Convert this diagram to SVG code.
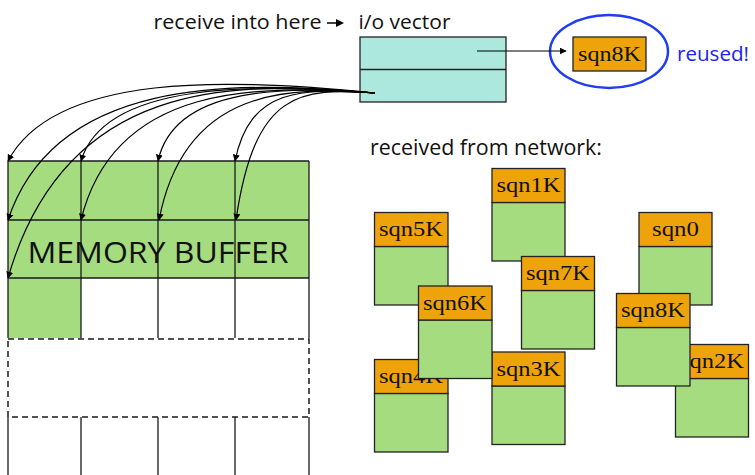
<svg xmlns="http://www.w3.org/2000/svg" width="755" height="475" viewBox="0 0 755 475">
  <style>
    .label { font-family: "Open Sans", Lato, "Liberation Sans", sans-serif; fill: #111; }
    .sqn { font-family: "Liberation Serif", "DejaVu Serif", serif; font-size: 22px; fill: #111; }
    .grid { stroke: #1a1a1a; stroke-width: 1.3; fill: none; }
    .dash { stroke: #1a1a1a; stroke-width: 1.5; fill: none; stroke-dasharray: 6 4; }
    .head { fill: #eea30a; stroke: #222; stroke-width: 1.3; }
    .body { fill: #a6dc80; stroke: #222; stroke-width: 1.3; }
    .wire { stroke: #000; stroke-width: 1.2; fill: none; marker-end: url(#tip); }
  </style>
  <defs>
    <marker id="tip" viewBox="0 0 10 10" refX="9" refY="5" markerWidth="7" markerHeight="7" markerUnits="userSpaceOnUse" orient="auto">
      <path d="M0,0 L10,5 L0,10 z" fill="#000"/>
    </marker>
  </defs>

  <rect width="755" height="475" fill="#fff"/>

  <!-- title line -->
  <g id="caption">
    <text class="label" x="153.5" y="29" font-size="20.5" textLength="168" lengthAdjust="spacingAndGlyphs">receive into here</text>
    <line x1="327" y1="23" x2="337" y2="23" stroke="#000" stroke-width="1.5"/>
    <path d="M336,19 L344,23 L336,27 z" fill="#000"/>
    <text class="label" x="358.5" y="29" font-size="20.5" textLength="92" lengthAdjust="spacingAndGlyphs">i/o vector</text>
  </g>

  <!-- i/o vector -->
  <g id="iovec">
    <rect x="360" y="37" width="146" height="65" fill="#ade8df" stroke="#222" stroke-width="1.3"/>
    <line x1="360" y1="69.5" x2="506" y2="69.5" stroke="#222" stroke-width="1.3"/>
  </g>

  <!-- reused packet -->
  <g id="reused">
    <ellipse cx="609" cy="51.5" rx="59" ry="36.5" fill="none" stroke="#1f3cf0" stroke-width="2.5"/>
    <rect class="head" x="573" y="37" width="73" height="34"/>
    <text class="sqn" x="609.5" y="61" text-anchor="middle" textLength="63" lengthAdjust="spacingAndGlyphs">sqn8K</text>
    <text x="677" y="61" font-family="'Open Sans', Lato, 'Liberation Sans', sans-serif" font-size="20" fill="#1a22f5" textLength="72" lengthAdjust="spacingAndGlyphs">reused!</text>
  </g>

  <!-- memory buffer -->
  <g id="buffer">
    <rect x="8" y="161" width="301" height="117" fill="#a6dc80"/>
    <rect x="8" y="278" width="73" height="60" fill="#a6dc80"/>
    <path class="grid" d="M8,161 H309 M8,220 H309 M8,278 H309 M8,161 V338 M81,161 V338 M158,161 V338 M235,161 V338 M309,161 V338"/>
    <rect class="dash" x="8" y="339" width="301" height="78"/>
    <path class="grid" d="M8,417 V475 M81,417 V475 M158,417 V475 M235,417 V475 M309,417 V475"/>
    <text class="label" x="158" y="263" font-size="30" text-anchor="middle" textLength="261" lengthAdjust="spacingAndGlyphs">MEMORY BUFFER</text>
  </g>

  <!-- scatter from the i/o vector slot into the buffer -->
  <g id="connectors">
    <line x1="477" y1="51" x2="566" y2="51" class="wire"/>
    <path class="wire" d="M375,93 C300,88 250,88 235,161"/>
    <path class="wire" d="M375,93 C300,88 255,90 236,220"/>
    <path class="wire" d="M375,93 C290,87 175,84 158,161"/>
    <path class="wire" d="M375,93 C290,87 185,86 159,220"/>
    <path class="wire" d="M375,93 C260,84 105,80 81,161"/>
    <path class="wire" d="M375,93 C260,85 115,82 81,220"/>
    <path class="wire" d="M375,93 C230,78 55,72 8,161"/>
    <path class="wire" d="M375,93 C230,80 55,78 8,220"/>
    <path class="wire" d="M375,93 C230,80 65,80 8,278"/>
  </g>

  <text class="label" x="370" y="155" font-size="21" textLength="232" lengthAdjust="spacingAndGlyphs">received from network:</text>

  <!-- packets arriving out of order -->
  <g id="p1k">
    <rect class="body" x="492" y="202.5" width="73" height="58.5"/>
    <rect class="head" x="492" y="168.5" width="73" height="34"/>
    <text class="sqn" x="528.5" y="192" text-anchor="middle" textLength="64" lengthAdjust="spacingAndGlyphs">sqn1K</text>
  </g>
  <g id="p5k">
    <rect class="body" x="374.5" y="246.5" width="73.5" height="58.5"/>
    <rect class="head" x="374.5" y="212.5" width="73.5" height="34"/>
    <text class="sqn" x="411" y="236" text-anchor="middle" textLength="64" lengthAdjust="spacingAndGlyphs">sqn5K</text>
  </g>
  <g id="p0">
    <rect class="body" x="639" y="246.5" width="73" height="58.5"/>
    <rect class="head" x="639" y="212.5" width="73" height="34"/>
    <text class="sqn" x="675.5" y="236" text-anchor="middle" textLength="47" lengthAdjust="spacingAndGlyphs">sqn0</text>
  </g>
  <g id="p7k">
    <rect class="body" x="521.5" y="290.5" width="73" height="58.5"/>
    <rect class="head" x="521.5" y="256.5" width="73" height="34"/>
    <text class="sqn" x="558" y="280" text-anchor="middle" textLength="64" lengthAdjust="spacingAndGlyphs">sqn7K</text>
  </g>
  <g id="p4k">
    <rect class="body" x="374.5" y="393.5" width="73.5" height="58.5"/>
    <rect class="head" x="374.5" y="359.5" width="73.5" height="34"/>
    <text class="sqn" x="411" y="383" text-anchor="middle" textLength="64" lengthAdjust="spacingAndGlyphs">sqn4K</text>
  </g>
  <g id="p2k">
    <rect class="body" x="675.5" y="378.5" width="73" height="58.5"/>
    <rect class="head" x="675.5" y="344.5" width="73" height="34"/>
    <text class="sqn" x="712" y="368" text-anchor="middle" textLength="64" lengthAdjust="spacingAndGlyphs">sqn2K</text>
  </g>
  <g id="p3k">
    <rect class="body" x="492" y="386" width="73" height="58.5"/>
    <rect class="head" x="492" y="352" width="73" height="34"/>
    <text class="sqn" x="528.5" y="375.5" text-anchor="middle" textLength="64" lengthAdjust="spacingAndGlyphs">sqn3K</text>
  </g>
  <g id="p6k">
    <rect class="body" x="418.5" y="320" width="73.5" height="58.5"/>
    <rect class="head" x="418.5" y="286" width="73.5" height="34"/>
    <text class="sqn" x="455" y="309.5" text-anchor="middle" textLength="64" lengthAdjust="spacingAndGlyphs">sqn6K</text>
  </g>
  <g id="p8k">
    <rect class="body" x="616.5" y="327.5" width="73.5" height="58.5"/>
    <rect class="head" x="616.5" y="293.5" width="73.5" height="34"/>
    <text class="sqn" x="653" y="317" text-anchor="middle" textLength="64" lengthAdjust="spacingAndGlyphs">sqn8K</text>
  </g>
</svg>
